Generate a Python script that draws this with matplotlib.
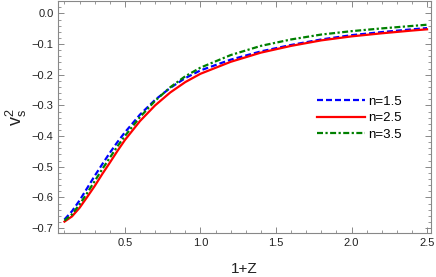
import matplotlib
matplotlib.use("Agg")
import matplotlib.pyplot as plt
from matplotlib.ticker import MultipleLocator

plt.rcParams["font.family"] = ["Liberation Sans", "DejaVu Sans"]
plt.rcParams["mathtext.fontset"] = "custom"
plt.rcParams["mathtext.rm"] = "Liberation Sans"
plt.rcParams["mathtext.it"] = "Liberation Sans"

# values
x = [0.1, 0.15, 0.2, 0.25, 0.3, 0.35, 0.4, 0.45, 0.5, 0.6, 0.7, 0.8, 0.9,
     1.0, 1.2, 1.4, 1.6, 1.8, 2.0, 2.2, 2.4, 2.5]
v_n15 = [-0.672, -0.645, -0.610, -0.570, -0.530, -0.492, -0.455, -0.420, -0.388,
         -0.330, -0.282, -0.243, -0.211, -0.186, -0.151, -0.124, -0.103, -0.085,
         -0.071, -0.061, -0.052, -0.048]
v_n25 = [-0.679, -0.662, -0.634, -0.599, -0.563, -0.524, -0.487, -0.449, -0.413,
         -0.351, -0.300, -0.258, -0.224, -0.197, -0.158, -0.128, -0.106, -0.088,
         -0.075, -0.065, -0.056, -0.052]
v_n35 = [-0.676, -0.655, -0.623, -0.586, -0.547, -0.508, -0.471, -0.434, -0.400,
         -0.338, -0.285, -0.241, -0.205, -0.177, -0.136, -0.106, -0.085, -0.069,
         -0.058, -0.049, -0.041, -0.037]
labels = ["n=1.5", "n=2.5", "n=3.5"]

fig = plt.figure(figsize=(4.36, 2.77), dpi=100)
ax = fig.add_axes([0.134, 0.159, 0.8545, 0.837])

ax.plot(x, v_n15, color="#0000ff", lw=1.6, ls=(0, (2.7, 1.35)), label=labels[0])
ax.plot(x, v_n25, color="#ff0000", lw=1.6, ls="-", label=labels[1])
ax.plot(x, v_n35, color="#008000", lw=1.6, ls=(0, (2.7, 1.1, 1.0, 1.1)), label=labels[2])

ax.set_xlim(0.06, 2.526)
ax.set_ylim(-0.716, 0.040)
ax.xaxis.set_minor_locator(MultipleLocator(0.1))
ax.yaxis.set_minor_locator(MultipleLocator(0.02))
ax.set_xticks([0.5, 1.0, 1.5, 2.0, 2.5])
ax.set_yticks([0.0, -0.1, -0.2, -0.3, -0.4, -0.5, -0.6, -0.7])
ax.set_yticklabels(["0.0", "\u22120.1", "\u22120.2", "\u22120.3", "\u22120.4",
                    "\u22120.5", "\u22120.6", "\u22120.7"])

for s in ax.spines.values():
    s.set_color("#888888")
    s.set_linewidth(0.8)
ax.tick_params(which="both", direction="in", top=True, right=True, colors="#888888",
               labelcolor="#222222", labelsize=8)
ax.tick_params(which="major", length=4.5, width=0.7)
ax.tick_params(which="minor", length=2.5, width=0.6)

ax.set_xlabel("1+Z", fontsize=11, color="#222222", labelpad=10)
ax.set_ylabel(r"$\mathregular{v_s^2}$", fontsize=13, color="#222222", labelpad=2)

ax.legend(loc="upper left", bbox_to_anchor=(0.68, 0.615), frameon=False, fontsize=9.5,
          handlelength=3.6, handletextpad=0.25, labelspacing=0.32, borderaxespad=0)

fig.savefig("out.png", dpi=100)
